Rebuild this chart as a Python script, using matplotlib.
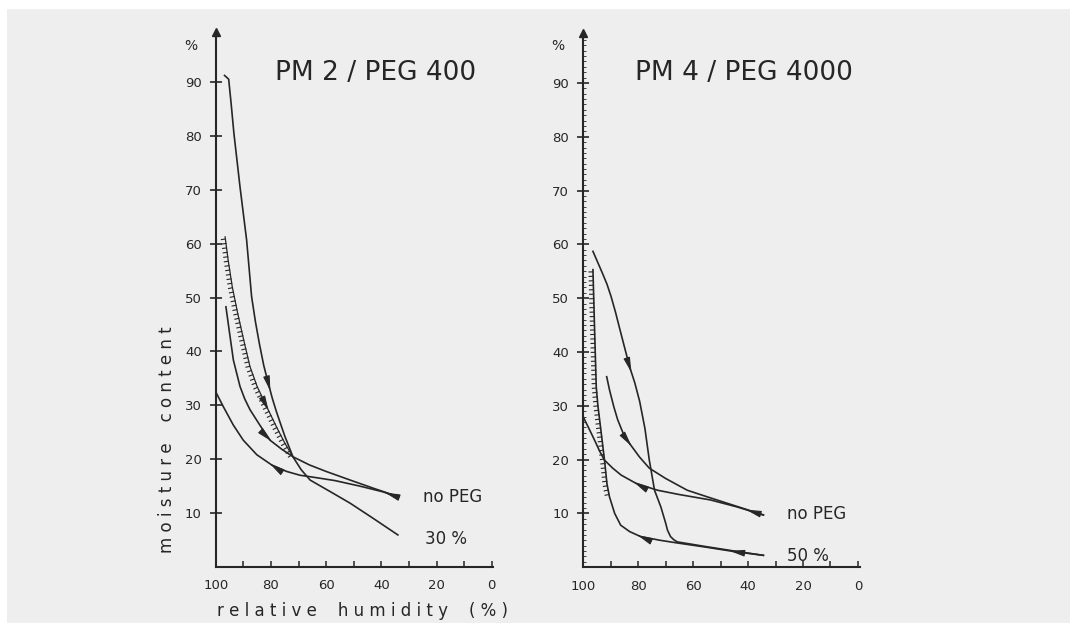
#!/usr/bin/env python3
"""Moisture sorption curves for PM 2 / PEG 400 and PM 4 / PEG 4000 (scanned figure redraw)."""

import numpy as np
import matplotlib
matplotlib.use('Agg')
import matplotlib.pyplot as plt
import matplotlib.patheffects as pe
from matplotlib.patches import Rectangle
from matplotlib.ticker import MultipleLocator, FixedLocator

# ---- data (x = relative humidity %, y = moisture content %) ----
# left panel: PM 2 / PEG 400
pm2_peg_des_x = [96.8, 95.3, 94.4, 93.4, 91.2, 88.8, 87.0, 85.6, 84.2, 82.6, 81.0, 79.5, 78.0, 75.0, 72.0, 69.0, 65.8, 58.0, 51.3, 43.0, 34.0]
pm2_peg_des_y = [91.3, 90.6, 86.0, 80.5, 70.6, 60.7, 50.2, 45.5, 41.5, 37.4, 34.2, 31.3, 28.8, 24.3, 20.4, 18.0, 16.1, 13.8, 11.8, 9.0, 5.9]
pm2_peg_ads_x = [96.6, 95.5, 94.0, 92.0, 89.8, 87.6, 85.0, 81.5, 78.0, 75.0, 72.0]
pm2_peg_ads_y = [61.3, 57.0, 52.0, 47.0, 42.0, 37.2, 33.5, 29.7, 26.0, 23.0, 20.4]
pm2_nopeg_des_x = [96.3, 95.0, 93.6, 91.2, 89.5, 87.6, 84.0, 80.3, 76.0, 71.9, 66.0, 60.0, 51.3, 43.0, 33.8]
pm2_nopeg_des_y = [48.3, 43.5, 38.4, 33.5, 31.2, 29.2, 26.3, 23.5, 21.8, 20.4, 18.9, 17.7, 16.1, 14.6, 13.0]
pm2_nopeg_ads_x = [100.0, 97.2, 93.6, 90.0, 85.1, 79.7, 74.3, 69.5, 63.0, 56.8, 48.0, 39.3, 34.4]
pm2_nopeg_ads_y = [32.5, 29.7, 26.3, 23.5, 20.8, 18.9, 17.7, 17.0, 16.5, 16.0, 15.0, 13.9, 13.0]

# right panel: PM 4 / PEG 4000
pm4_peg_des_x = [96.4, 93.0, 91.3, 89.8, 88.2, 86.5, 83.1, 81.2, 79.4, 77.5, 75.9, 74.0, 71.7, 69.9, 69.3, 68.2, 67.0, 65.7, 55.0, 45.0, 34.4]
pm4_peg_des_y = [58.7, 54.7, 52.6, 50.3, 47.4, 44.0, 37.3, 34.3, 30.8, 25.8, 19.9, 14.3, 11.2, 8.1, 6.9, 5.7, 5.1, 4.7, 3.8, 3.0, 2.2]
pm4_peg_ads_x = [96.4, 95.8, 95.2, 94.6, 93.4, 92.2, 91.3, 90.4, 88.5, 86.3, 83.0, 79.1, 72.0, 65.7, 55.0, 45.0, 34.4]
pm4_peg_ads_y = [55.3, 44.1, 33.5, 30.0, 25.0, 19.9, 15.5, 13.1, 10.0, 7.8, 6.6, 5.7, 5.0, 4.5, 3.7, 2.9, 2.2]
pm4_nopeg_des_x = [91.4, 90.4, 88.8, 87.4, 85.5, 83.1, 79.5, 75.9, 70.0, 62.1, 55.0, 47.7, 41.0, 34.4]
pm4_nopeg_des_y = [35.4, 33.0, 29.8, 27.4, 25.0, 23.0, 20.5, 18.4, 16.5, 14.3, 13.1, 11.9, 10.8, 9.7]
pm4_nopeg_ads_x = [100.0, 97.5, 95.8, 94.0, 92.2, 89.2, 86.1, 80.8, 76.0, 72.9, 65.0, 53.7, 44.0, 34.4]
pm4_nopeg_ads_y = [28.0, 25.4, 23.6, 21.6, 19.9, 18.4, 17.1, 15.6, 14.8, 14.3, 13.5, 12.5, 11.2, 9.7]

# arrow heads: (curve key, RH where the head sits, +1 = towards dry side, -1 = towards wet side)
pm2_arrows = [('peg_des', 80.9, 1), ('peg_ads', 81.5, 1), ('nopeg_des', 80.5, 1),
              ('nopeg_ads', 79.7, -1), ('nopeg_ads', 38.0, -1)]
pm4_arrows = [('peg_des', 83.1, 1), ('nopeg_des', 83.1, 1), ('nopeg_ads', 80.8, -1),
              ('peg_ads', 79.5, -1), ('nopeg_ads', 40.0, -1), ('peg_ads', 46.0, -1)]

y_ticks = [10, 20, 30, 40, 50, 60, 70, 80, 90]
x_ticks = [100, 80, 60, 40, 20, 0]

INK = '#262626'
PAPER = '#eeeeee'

fig = plt.figure(figsize=(10.7, 6.23), dpi=100, facecolor='white')
fig.patches.append(Rectangle((7 / 1070, 0), 1, 1 - 9 / 623, transform=fig.transFigure,
                             facecolor=PAPER, edgecolor='none', zorder=-10))

ax1 = fig.add_axes([0.2016, 0.0904, 0.2595, 0.855])
ax2 = fig.add_axes([0.5449, 0.0896, 0.2585, 0.855])

hatch = [pe.TickedStroke(angle=-90, spacing=3.2, length=0.9, linewidth=0.8)]


def style_axis(ax, minor_y=False):
    ax.set_facecolor('none')
    ax.set_xlim(100, -0.6)
    ax.set_ylim(0, 99)
    for s in ['top', 'right']:
        ax.spines[s].set_visible(False)
    for s in ['left', 'bottom']:
        ax.spines[s].set_color(INK)
        ax.spines[s].set_linewidth(1.5)
    ax.yaxis.set_major_locator(FixedLocator(y_ticks))
    ax.set_yticklabels([str(v) for v in y_ticks])
    ax.xaxis.set_major_locator(FixedLocator(x_ticks))
    ax.set_xticklabels([str(v) for v in x_ticks])
    ax.xaxis.set_minor_locator(MultipleLocator(10))
    ax.tick_params(axis='y', which='major', direction='inout', length=8, width=1.2,
                   color=INK, labelsize=9.5, labelcolor=INK, pad=6)
    ax.tick_params(axis='x', which='both', direction='in', length=4, width=1.1,
                   color=INK, labelsize=9.5, labelcolor=INK, pad=9)
    if minor_y:
        ax.yaxis.set_minor_locator(MultipleLocator(1))
        ax.tick_params(axis='y', which='minor', direction='in', length=2.5, width=0.6, color=INK)
    # arrow tip on the y axis
    ax.plot([0], [1.003], marker='^', ms=6, color=INK, transform=ax.transAxes, clip_on=False)
    ax.text(-0.09, 0.978, '%', transform=ax.transAxes, fontsize=10, color=INK,
            ha='center', va='center')


def draw_arrows(ax, curves, arrows):
    for key, x0, d in arrows:
        xs, ys = curves[key]
        xp, yp = np.array(xs)[::-1], np.array(ys)[::-1]
        y0 = np.interp(x0, xp, yp)
        x1 = x0 - d * 0.7
        y1 = np.interp(x1, xp, yp)
        ax.annotate('', xy=(x1, y1), xytext=(x0, y0),
                    arrowprops=dict(arrowstyle='-|>,head_length=1.0,head_width=0.22',
                                    color=INK, lw=0.8, mutation_scale=9, shrinkA=0, shrinkB=0))


# ---- left panel ----
style_axis(ax1)
pm2 = {'peg_des': (pm2_peg_des_x, pm2_peg_des_y), 'peg_ads': (pm2_peg_ads_x, pm2_peg_ads_y),
       'nopeg_des': (pm2_nopeg_des_x, pm2_nopeg_des_y), 'nopeg_ads': (pm2_nopeg_ads_x, pm2_nopeg_ads_y)}
ax1.plot(pm2_peg_des_x, pm2_peg_des_y, color=INK, lw=1.2)
ax1.plot(pm2_peg_ads_x, pm2_peg_ads_y, color=INK, lw=0.9, path_effects=hatch + [pe.Normal()])
ax1.plot(pm2_nopeg_des_x, pm2_nopeg_des_y, color=INK, lw=1.2)
ax1.plot(pm2_nopeg_ads_x, pm2_nopeg_ads_y, color=INK, lw=1.2)
draw_arrows(ax1, pm2, pm2_arrows)
ax1.text(0.2135, 0.927, 'PM 2 / PEG 400', transform=ax1.transAxes, fontsize=19,
         color=INK, ha='left', va='center')
ax1.text(25, 13.0, 'no PEG', fontsize=12, color=INK, ha='left', va='center')
ax1.text(24.3, 5.1, '30 %', fontsize=12, color=INK, ha='left', va='center')

# ---- right panel ----
style_axis(ax2, minor_y=True)
pm4 = {'peg_des': (pm4_peg_des_x, pm4_peg_des_y), 'peg_ads': (pm4_peg_ads_x, pm4_peg_ads_y),
       'nopeg_des': (pm4_nopeg_des_x, pm4_nopeg_des_y), 'nopeg_ads': (pm4_nopeg_ads_x, pm4_nopeg_ads_y)}
ax2.plot(pm4_peg_des_x, pm4_peg_des_y, color=INK, lw=1.2)
ax2.plot(pm4_peg_ads_x, pm4_peg_ads_y, color=INK, lw=1.2)
ax2.plot(pm4_peg_ads_x[:8], pm4_peg_ads_y[:8], color=INK, lw=0.9, path_effects=hatch)
ax2.plot(pm4_nopeg_des_x, pm4_nopeg_des_y, color=INK, lw=1.2)
ax2.plot(pm4_nopeg_ads_x, pm4_nopeg_ads_y, color=INK, lw=1.2)
draw_arrows(ax2, pm4, pm4_arrows)
ax2.text(0.188, 0.927, 'PM 4 / PEG 4000', transform=ax2.transAxes, fontsize=19,
         color=INK, ha='left', va='center')
ax2.text(25.8, 9.9, 'no PEG', fontsize=12, color=INK, ha='left', va='center')
ax2.text(25.8, 2.0, '50 %', fontsize=12, color=INK, ha='left', va='center')

# axis titles, letter-spaced like the stencil lettering
fig.text(217 / 1070, 1 - 611 / 623, 'r e l a t i v e    h u m i d i t y    ( % )',
         fontsize=12, color=INK, ha='left', va='center')
fig.text(167 / 1070, 1 - 440 / 623, 'm o i s t u r e    c o n t e n t',
         fontsize=12, color=INK, ha='center', va='center', rotation=90)

fig.savefig('out.png', dpi=100, facecolor=fig.get_facecolor())
print("saved out.png")
